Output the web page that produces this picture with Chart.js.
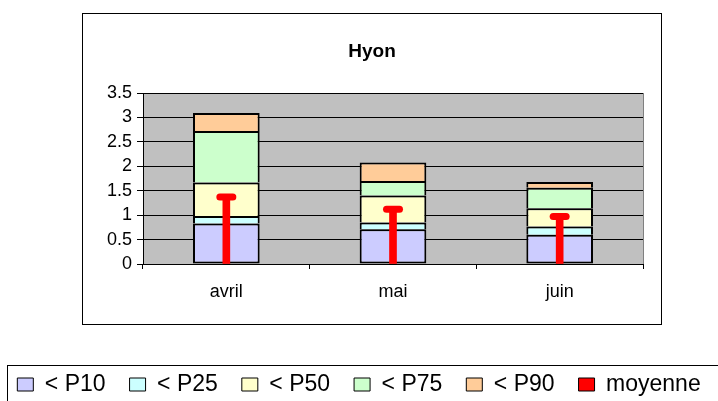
<!DOCTYPE html>
<html>
<head>
<meta charset="utf-8">
<script src="https://cdn.jsdelivr.net/npm/chart.js@4"></script>
<style>
  html, body { margin: 0; padding: 0; background: #fff; }
  #wrap { width: 718px; height: 401px; position: relative; }
</style>
</head>
<body>
<div id="wrap"><canvas id="c"></canvas></div>
<script>
// Hyon - percentiles per month with the mean drawn as a red stem
const categories = ["avril", "mai", "juin"];
const p10 = [0.83, 0.71, 0.60];
const p25 = [0.98, 0.85, 0.77];
const p50 = [1.67, 1.40, 1.14];
const p75 = [2.72, 1.70, 1.56];
const p90 = [3.09, 2.08, 1.68];
const moyenne = [1.37, 1.12, 0.97];
const yStep = 0.5, yMax = 3.5;

const FONT = "Arial, 'Liberation Sans', sans-serif";

// each band goes from the previous percentile up to this one
function band(label, lo, hi, color) {
  return {
    type: "bar", label,
    data: hi.map((v, i) => [lo ? lo[i] : 0, v]),
    backgroundColor: color, borderColor: "#000",
    borderWidth: { left: 2, right: 2, top: 2, bottom: lo ? 0 : 2 },
    borderSkipped: false, grouped: false,
    categoryPercentage: 1, barPercentage: 0.4,
  };
}

const datasets = [
  band("< P10", null, p10, "#ccccff"),
  band("< P25", p10, p25, "#ccffff"),
  band("< P50", p25, p50, "#ffffcc"),
  band("< P75", p50, p75, "#ccffcc"),
  band("< P90", p75, p90, "#ffcc99"),
  {
    type: "bar", label: "moyenne",
    data: moyenne.map(v => [0, v]),
    backgroundColor: "#ff0000", borderWidth: 0, borderSkipped: false,
    grouped: false, barThickness: 7, order: -1,
  },
  {
    type: "line", label: "cap", data: moyenne,
    showLine: false, pointStyle: "line", pointRadius: 6.5,
    pointBorderWidth: 7, pointBorderColor: "#ff0000", borderColor: "#ff0000",
    order: -2,
  },
];

const frame = {
  id: "frame",
  beforeDraw(chart) {
    const { ctx, chartArea: a } = chart;
    ctx.save();
    ctx.fillStyle = "#c0c0c0";
    ctx.fillRect(a.left, a.top, a.right - a.left, a.bottom - a.top);
    ctx.restore();
  },
  beforeDatasetDraw(chart, args) {
    if (args.meta.type === "line") chart.ctx.lineCap = "round";
  },
  afterDatasetDraw(chart) {
    chart.ctx.lineCap = "butt";
  },
  afterDraw(chart) {
    const { ctx, chartArea: a } = chart;
    ctx.save();
    ctx.strokeStyle = "#808080";
    ctx.lineWidth = 1;
    ctx.beginPath();
    ctx.moveTo(a.right + 0.5, a.top);
    ctx.lineTo(a.right + 0.5, a.bottom);
    ctx.stroke();
    ctx.strokeStyle = "#000";
    ctx.strokeRect(82.5, 13.5, 579, 311);
    ctx.strokeRect(7.5, 365.5, 740, 60);
    ctx.fillStyle = "#000";
    ctx.font = "bold 19px " + FONT;
    ctx.textAlign = "center";
    ctx.textBaseline = "middle";
    ctx.fillText("Hyon", 372, 52);
    ctx.restore();
  },
};

new Chart(document.getElementById("c"), {
  data: { labels: categories, datasets },
  options: {
    responsive: true, maintainAspectRatio: false, animation: false,
    // negative side padding lets the full-width legend span past the canvas edges
    layout: { padding: { left: -20, right: -20, top: 93, bottom: -5 } },
    plugins: {
      tooltip: { enabled: false },
      legend: {
        position: "bottom",
        labels: {
          font: { family: FONT, size: 23 }, color: "#000",
          boxWidth: 16, boxHeight: 13, padding: 24,
          sort: (a, b) => a.datasetIndex - b.datasetIndex,
          generateLabels(chart) {
            return Chart.defaults.plugins.legend.labels.generateLabels(chart)
              .filter(l => l.text !== "cap")
              .map(l => Object.assign(l, { strokeStyle: "#000", lineWidth: 1 }));
          },
        },
      },
    },
    scales: {
      x: {
        offset: true,
        grid: { offset: true, drawOnChartArea: false, tickLength: 5, color: "#000" },
        border: { color: "#000" },
        ticks: { font: { family: FONT, size: 18 }, color: "#000", padding: 12 },
        afterFit(s) { s.height = 85; },
      },
      y: {
        min: 0, max: yMax,
        grid: { color: "#000", tickLength: 6 },
        border: { color: "#000" },
        ticks: {
          stepSize: yStep, autoSkip: false,
          font: { family: FONT, size: 18 }, color: "#000", padding: 5,
          callback: v => String(v),
        },
        afterFit(s) { s.width = 163; },
      },
      y2: {
        position: "right", display: true,
        grid: { display: false }, border: { display: false },
        ticks: { display: false },
        afterFit(s) { s.width = 95; },
      },
    },
  },
  plugins: [frame],
});
</script>
</body>
</html>
